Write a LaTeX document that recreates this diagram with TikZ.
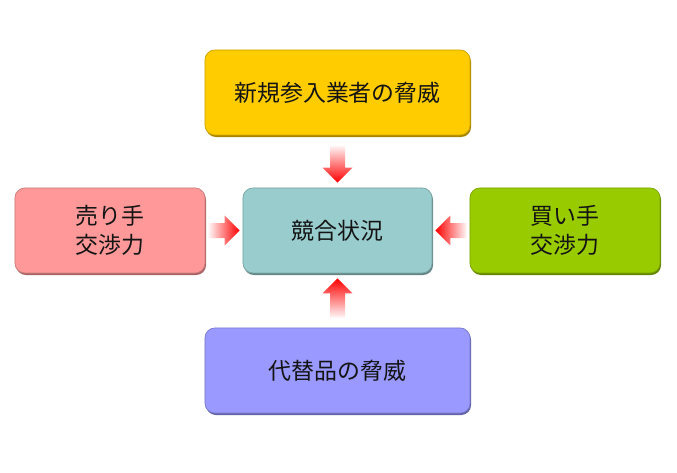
\documentclass[tikz,border=0pt]{standalone}
\usepackage{fontspec}
\setmainfont{Noto Sans CJK JP}
\usetikzlibrary{calc}
\definecolor{gold}{RGB}{255,204,0}
\definecolor{rose}{RGB}{255,153,153}
\definecolor{aqua}{RGB}{153,204,204}
\definecolor{lime}{RGB}{153,204,0}
\definecolor{lilac}{RGB}{153,153,255}
\definecolor{ink}{RGB}{20,20,20}

\begin{document}
\begin{tikzpicture}[x=0.025cm,y=-0.025cm,font=\fontsize{16.3}{21}\selectfont,text=ink,
          bx/.style={rounded corners=7pt,align=center,minimum height=2.125cm,
            draw=#1!80!black,line width=0.5pt,fill=#1,
            preaction={fill=#1!65!black,transform canvas={shift={(1,2)}}}},
          push/.style={middle color=red!75,#1 color=red!3}]
        \useasboundingbox (0,0) rectangle (677,473);
        \node[bx=gold,minimum width=6.625cm] (ent) at (337.5,92.5) {新規参入業者の脅威};
        \node[bx=aqua,minimum width=4.725cm] (riv) at (337.5,230.5) {競合状況};
        \node[bx=rose,minimum width=4.75cm] (sel) at (110,230.5) {売り手\\交渉力};
        \node[bx=lime,minimum width=4.75cm] (buy) at (565,230.5) {買い手\\交渉力};
        \node[bx=lilac,minimum width=6.625cm] (sub) at (337.5,370.5) {代替品の脅威};
        % arrows into the centre box
        \shade[push=top,bottom color=red] ($(ent.south)+(-7.5,10)$) -- ($(ent.south)+(7.5,10)$)
          -- ($(riv.north)+(7.5,-20)$) -- ($(riv.north)+(15,-20)$) -- ($(riv.north)+(0,-5)$)
          -- ($(riv.north)+(-15,-20)$) -- ($(riv.north)+(-7.5,-20)$) -- cycle;
        \shade[push=bottom,top color=red] ($(sub.north)+(-7.5,-10)$) -- ($(sub.north)+(7.5,-10)$)
          -- ($(riv.south)+(7.5,20)$) -- ($(riv.south)+(15,20)$) -- ($(riv.south)+(0,5)$)
          -- ($(riv.south)+(-15,20)$) -- ($(riv.south)+(-7.5,20)$) -- cycle;
        \shade[push=left,right color=red] ($(sel.east)+(3,-7.5)$) -- ($(sel.east)+(3,7.5)$)
          -- ($(riv.west)+(-18,7.5)$) -- ($(riv.west)+(-18,15)$) -- ($(riv.west)+(-3,0)$)
          -- ($(riv.west)+(-18,-15)$) -- ($(riv.west)+(-18,-7.5)$) -- cycle;
        \shade[push=right,left color=red] ($(buy.west)+(-3,-7.5)$) -- ($(buy.west)+(-3,7.5)$)
          -- ($(riv.east)+(18,7.5)$) -- ($(riv.east)+(18,15)$) -- ($(riv.east)+(3,0)$)
          -- ($(riv.east)+(18,-15)$) -- ($(riv.east)+(18,-7.5)$) -- cycle;
      \end{tikzpicture}
\end{document}
